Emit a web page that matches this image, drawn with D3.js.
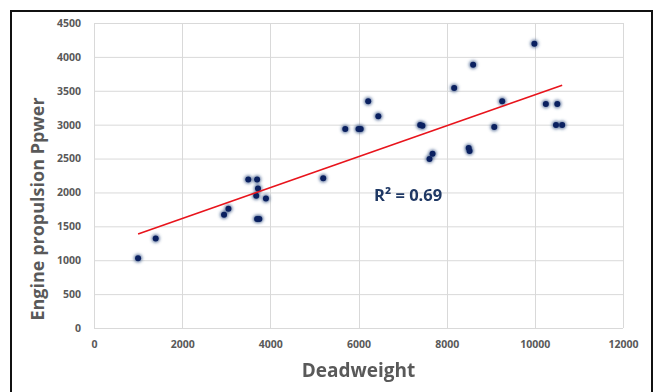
<!DOCTYPE html>
<html>
<head>
<meta charset="utf-8">
<script src="https://cdn.jsdelivr.net/npm/d3@7"></script>
<style>
  html, body { margin: 0; padding: 0; background: #fff; }
  svg { display: block; font-family: "Open Sans", "Noto Sans", sans-serif; }
</style>
</head>
<body>
<svg width="658" height="392"></svg>
<script>
// data
const deadweight = [1000, 1400, 2950, 3050, 3500, 3700, 3720, 3680, 3700, 3750, 3900,
  5200, 5700, 6000, 6050, 6220, 6450, 7400, 7450, 7610, 7680, 8170, 8500, 8520,
  8600, 9080, 9260, 9990, 10250, 10510, 10480, 10620];
const power = [1030, 1320, 1670, 1760, 2190, 2190, 2060, 1950, 1610, 1610, 1910,
  2210, 2935, 2935, 2935, 3345, 3125, 2995, 2985, 2495, 2570, 3540, 2655, 2610,
  3885, 2965, 3345, 4195, 3305, 3305, 2995, 2995];
const xTicks = [0, 2000, 4000, 6000, 8000, 10000, 12000];
const yTicks = [0, 500, 1000, 1500, 2000, 2500, 3000, 3500, 4000, 4500];
const r2Label = "R² = 0.69";

const svg = d3.select("svg");
const largura = +svg.attr("width");
const altura = +svg.attr("height");

const margem = { left: 94, right: 623, top: 23, bottom: 328 };

const x = d3.scaleLinear().domain([0, 12000]).range([margem.left, margem.right]);
const y = d3.scaleLinear().domain([0, 4500]).range([margem.bottom, margem.top]);

// blur used for the soft halo around markers
const defs = svg.append("defs");
defs.append("filter").attr("id", "halo")
    .attr("x", "-100%").attr("y", "-100%").attr("width", "300%").attr("height", "300%")
  .append("feGaussianBlur").attr("stdDeviation", 1.4);

// outer frame
svg.append("rect")
    .attr("x", 11).attr("y", 11)
    .attr("width", 641).attr("height", 400)
    .attr("fill", "#fff")
    .attr("stroke", "#111").attr("stroke-width", 2);

// gridlines
svg.append("g")
  .selectAll("line").data(yTicks).join("line")
    .attr("x1", x(0)).attr("x2", x(12000))
    .attr("y1", d => y(d) + 0.5).attr("y2", d => y(d) + 0.5)
    .attr("stroke", "#d9d9d9");

svg.append("g")
  .selectAll("line").data(xTicks).join("line")
    .attr("x1", d => Math.round(x(d)) + 0.5).attr("x2", d => Math.round(x(d)) + 0.5)
    .attr("y1", y(4500)).attr("y2", y(0))
    .attr("stroke", "#d9d9d9");

// axes, text only
const eixoY = svg.append("g")
    .attr("transform", `translate(${margem.left},0)`)
    .call(d3.axisLeft(y).tickValues(yTicks).tickFormat(d3.format("d")).tickSize(0).tickPadding(13));
const eixoX = svg.append("g")
    .attr("transform", `translate(0,${margem.bottom})`)
    .call(d3.axisBottom(x).tickValues(xTicks).tickFormat(d3.format("d")).tickSize(0).tickPadding(13));

[eixoY, eixoX].forEach(e => {
  e.select(".domain").remove();
  e.selectAll("text")
    .attr("fill", "#595959")
    .style("font-size", "10.5px")
    .style("font-weight", "bold")
    .style("font-family", "'Open Sans', sans-serif");
});

// markers
const pontos = deadweight.map((d, i) => ({ x: d, y: power[i] }));

svg.append("g").attr("filter", "url(#halo)")
  .selectAll("circle").data(pontos).join("circle")
    .attr("cx", d => x(d.x)).attr("cy", d => y(d.y))
    .attr("r", 4.2)
    .attr("fill", "#3d5a8a").attr("opacity", 0.75);

svg.append("g")
  .selectAll("circle").data(pontos).join("circle")
    .attr("cx", d => x(d.x)).attr("cy", d => y(d.y))
    .attr("r", 3)
    .attr("fill", "#0a2060");

// linear trendline (least squares)
const mx = d3.mean(deadweight), my = d3.mean(power);
const sxy = d3.sum(pontos, d => (d.x - mx) * (d.y - my));
const sxx = d3.sum(pontos, d => (d.x - mx) ** 2);
const inclinacao = sxy / sxx;
const intercepto = my - inclinacao * mx;
const [xmin, xmax] = d3.extent(deadweight);

svg.append("line")
    .attr("x1", x(xmin)).attr("y1", y(intercepto + inclinacao * xmin))
    .attr("x2", x(xmax)).attr("y2", y(intercepto + inclinacao * xmax))
    .attr("stroke", "#e8141c").attr("stroke-width", 1.6);

// R² label
svg.append("text")
    .attr("x", 374).attr("y", 201)
    .attr("fill", "#1f3864")
    .style("font-size", "16.5px").style("font-weight", "bold")
    .text(r2Label);

// axis titles
svg.append("text")
    .attr("x", x(6000)).attr("y", 377)
    .attr("text-anchor", "middle")
    .attr("fill", "#595959")
    .style("font-size", "19px").style("font-weight", "bold")
    .text("Deadweight");

svg.append("text")
    .attr("transform", `translate(44,209) rotate(-90)`)
    .attr("text-anchor", "middle")
    .attr("fill", "#595959")
    .style("font-size", "18px").style("font-weight", "bold")
    .text("Engine propulsion Ppwer");
</script>
</body>
</html>
